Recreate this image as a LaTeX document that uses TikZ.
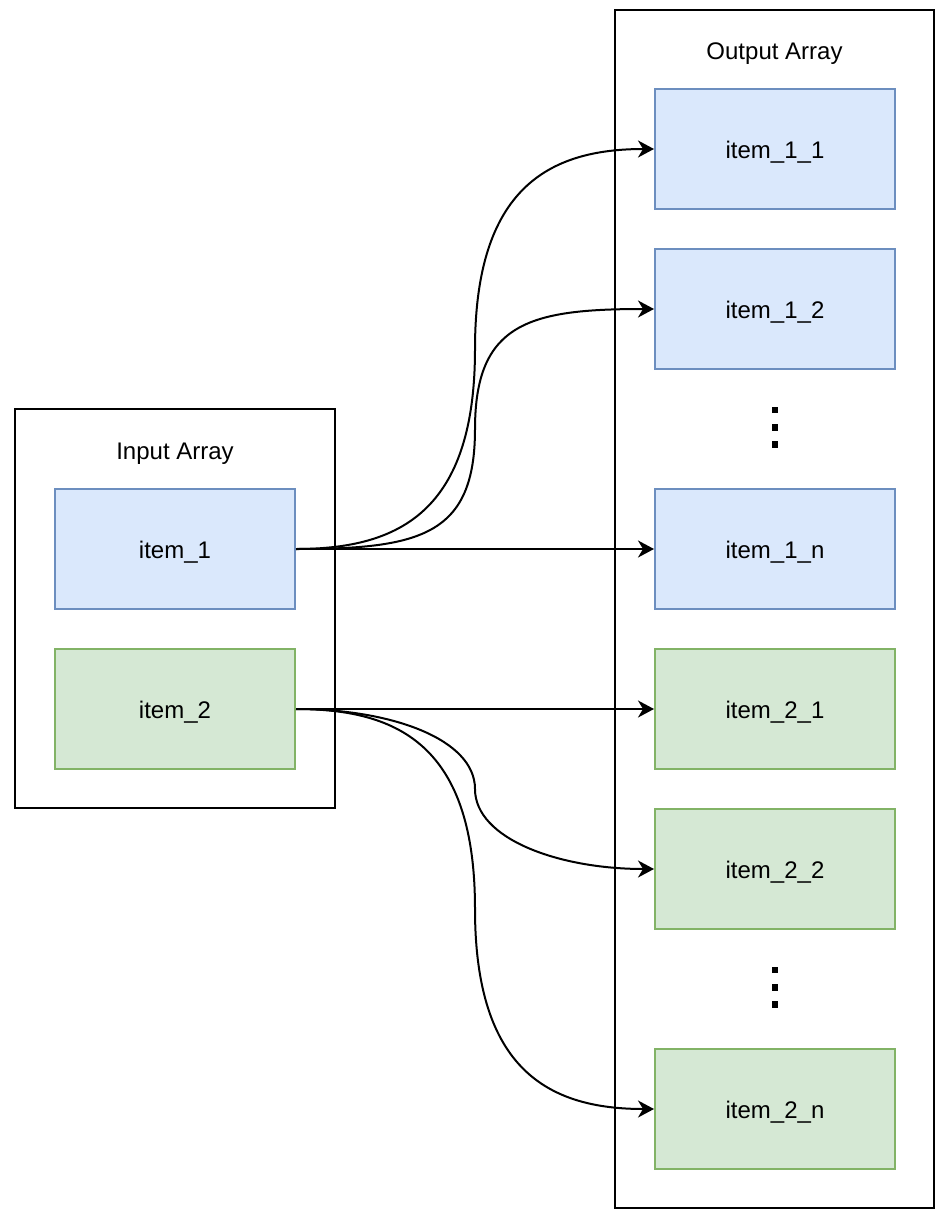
\documentclass[tikz,border=0pt]{standalone}
\usepackage{fontspec}
\setmainfont{Liberation Sans}
\usetikzlibrary{arrows.meta}
\definecolor{bluefill}{HTML}{DAE8FC}
\definecolor{blueline}{HTML}{6C8EBF}
\definecolor{greenfill}{HTML}{D5E8D4}
\definecolor{greenline}{HTML}{82B366}
\tikzset{
  labelfont/.style={font=\fontsize{24}{29}\selectfont, text height=21pt, text depth=1.8pt},
  container/.style={draw=black, line width=2pt, fill=white, rectangle, inner sep=0pt},
  bluebox/.style={draw=blueline, fill=bluefill, line width=2pt, rectangle, minimum width=240pt, minimum height=120pt, inner sep=0pt, labelfont},
  greenbox/.style={draw=greenline, fill=greenfill, line width=2pt, rectangle, minimum width=240pt, minimum height=120pt, inner sep=0pt, labelfont},
  titletext/.style={labelfont, inner sep=0pt},
  arr/.style={draw=black, line width=2pt, -{Stealth[length=16pt,width=17pt,inset=5pt]}},
  dotsq/.style={fill=black, draw=none, minimum size=6.5pt, inner sep=0pt, rectangle}
}
\begin{document}
\begin{tikzpicture}[x=1pt,y=-1pt]
\useasboundingbox (0,0) rectangle (946,1228);
\fill[white] (0,0) rectangle (946,1228);
% containers
\node[container, minimum width=320pt, minimum height=399pt] (inbox) at (175,608.5) {};
\node[container, minimum width=319pt, minimum height=1198pt] (outbox) at (774.5,609) {};
\node[titletext] (intitle) at (175,449.5) {Input Array};
\node[titletext] (outtitle) at (774.5,50) {Output Array};
% input items
\node[bluebox] (i1) at (175,549) {item\_1};
\node[greenbox] (i2) at (175,709) {item\_2};
% output items
\node[bluebox] (o11) at (775,149) {item\_1\_1};
\node[bluebox] (o12) at (775,309) {item\_1\_2};
\node[bluebox] (o1n) at (775,549) {item\_1\_n};
\node[greenbox] (o21) at (775,709) {item\_2\_1};
\node[greenbox] (o22) at (775,869) {item\_2\_2};
\node[greenbox] (o2n) at (775,1109) {item\_2\_n};
% vertical dots
\node[dotsq] (d1a) at (775,410) {};
\node[dotsq] (d1b) at (775,427.5) {};
\node[dotsq] (d1c) at (775,444.5) {};
\node[dotsq] (d2a) at (775,970) {};
\node[dotsq] (d2b) at (775,987.5) {};
\node[dotsq] (d2c) at (775,1004.5) {};
% midpoints
\coordinate (m11) at (475,349);
\coordinate (m12) at (475,429);
\coordinate (m22) at (475,789);
\coordinate (m2n) at (475,909);
% connectors
\draw[arr] (i1.east) .. controls +(105,0) and +(0,161) .. (m11) .. controls +(0,-161) and +(-105,0) .. (o11.west);
\draw[arr] (i1.east) .. controls +(125,0) and +(0,106) .. (m12) .. controls +(0,-106) and +(-125,0) .. (o12.west);
\draw[arr] (i1.east) -- (o1n.west);
\draw[arr] (i2.east) -- (o21.west);
\draw[arr] (i2.east) .. controls +(95,0) and +(0,-50) .. (m22) .. controls +(0,50) and +(-95,0) .. (o22.west);
\draw[arr] (i2.east) .. controls +(105,0) and +(0,-161) .. (m2n) .. controls +(0,161) and +(-105,0) .. (o2n.west);
\end{tikzpicture}
\end{document}
